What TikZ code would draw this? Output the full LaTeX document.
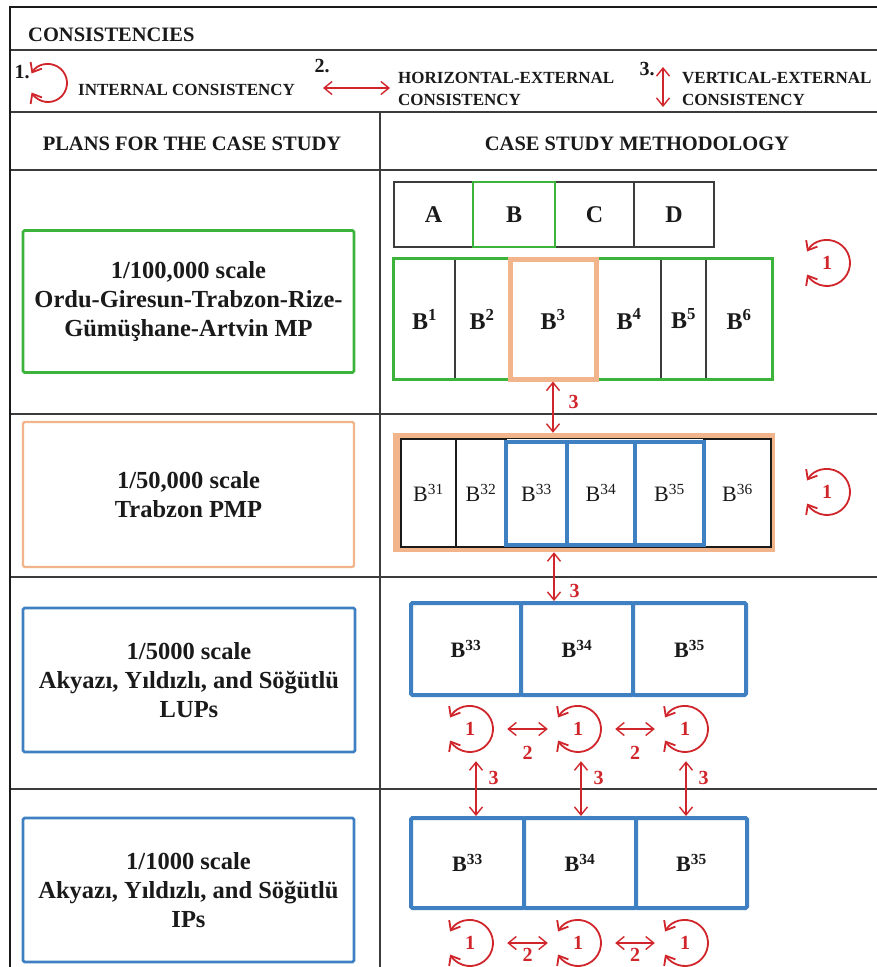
\documentclass[tikz,border=0pt]{standalone}
\usepackage{fontspec}
\setmainfont{Liberation Serif}
\usepackage{xcolor}
\usetikzlibrary{arrows.meta,positioning,calc}
\definecolor{ink}     {HTML}{1A1A1A}
\definecolor{rulegray}{HTML}{3C3C3C}
\definecolor{mpgreen} {HTML}{3CB43C}
\definecolor{peach}   {HTML}{F2B48A}
\definecolor{lupblue} {HTML}{3F80C2}
\definecolor{arrred}  {HTML}{D0262B}
% internal-consistency loop: name, centre, radius, label
\newcommand{\intloop}[4]{%
  \node[loopnode,minimum size=2*#3] (#1) at (#2) {#4};
  \draw[loopline] ([shift={(150:#3)}]#1.center) arc[start angle=150,end angle=-150,radius=#3];}
\tikzset{
  tip/.tip={Straight Barb[length=8pt,width=13pt]},
  rulel/.style={draw=rulegray,line width=1.6pt},
  frameline/.style={draw=ink,line width=2.2pt},
  conn/.style={draw=arrred,line width=1.4pt,tip-tip},
  loopline/.style={draw=arrred,line width=1.8pt,tip-tip},
  loopnode/.style={circle,inner sep=0pt,text=arrred,font=\fontsize{20}{20}\selectfont\bfseries},
  lab/.style={inner sep=0pt,text=arrred,font=\fontsize{20}{20}\selectfont\bfseries},
  headtxt/.style={inner sep=0pt,text=ink,font=\fontsize{20.5}{24}\selectfont\bfseries},
  legtxt/.style={inner sep=0pt,text=ink,align=left,font=\fontsize{17}{22}\selectfont\bfseries},
  legnum/.style={inner sep=0pt,text=ink,font=\fontsize{20}{20}\selectfont\bfseries},
  planbox/.style={draw,line width=2.6pt,rounded corners=1.5pt,fill=white,align=center,
    inner sep=0pt,text=ink,font=\fontsize{24.5}{29}\selectfont\bfseries},
  cell/.style={draw=rulegray,line width=1.2pt,fill=white,inner sep=0pt,text=ink,
    font=\fontsize{24}{28}\selectfont\bfseries},
  thincell/.style={cell,draw=ink,font=\fontsize{22}{26}\selectfont},
  bluecell/.style={cell,draw=lupblue,line width=4pt,rounded corners=1.5pt,
    font=\fontsize{22}{26}\selectfont\bfseries},
}
\begin{document}
\begin{tikzpicture}[x=1pt,y=-1pt]
\useasboundingbox[fill=white] (0,0) rectangle (877,967);

% table grid
\draw[rulel] (10,50) -- (877,50);
\draw[rulel] (10,112) -- (877,112);
\draw[rulel] (10,170) -- (877,170);
\draw[rulel] (10,414) -- (877,414);
\draw[rulel] (10,577) -- (877,577);
\draw[rulel] (10,789) -- (877,789);
\draw[rulel] (380,112) -- (380,967);
\draw[frameline] (10,967) -- (10,7) -- (877,7);

% legend
\node[headtxt,anchor=base west] (ttl) at (28,41) {CONSISTENCIES};
\node[legnum] (n1) at (22,72) {1.};
\intloop{kl}{48,83}{19pt}{}
\node[legtxt,anchor=base west] (t1) at (78,95) {INTERNAL CONSISTENCY};
\node[legnum] (n2) at (322,66) {2.};
\coordinate (h0) at (323,88);
\coordinate (h1) at (390,88);
\draw[conn] (h0) -- (h1);
\node[legtxt,anchor=west] (t2) at (398,88.5) {HORIZONTAL-EXTERNAL\\CONSISTENCY};
\node[legnum] (n3) at (647,69) {3.};
\coordinate (v0) at (663,67);
\coordinate (v1) at (663,107);
\draw[conn] (v0) -- (v1);
\node[legtxt,anchor=west] (t3) at (682,88.5) {VERTICAL-EXTERNAL\\CONSISTENCY};

% column heads
\node[headtxt,anchor=base] (hl) at (192,150) {PLANS FOR THE CASE STUDY};
\node[headtxt,anchor=base] (hr) at (637,150) {CASE STUDY METHODOLOGY};

% plans
\node[planbox,draw=mpgreen,minimum width=331pt,minimum height=142pt] (mp) at (188.5,301.5)
  {1/100,000 scale\\Ordu-Giresun-Trabzon-Rize-\\Gümüşhane-Artvin MP};
\node[planbox,draw=peach,line width=2.2pt,minimum width=331pt,minimum height=145pt] (pmp) at (188.5,494.5)
  {1/50,000 scale\\Trabzon PMP};
\node[planbox,draw=lupblue,minimum width=332pt,minimum height=144pt] (lup) at (189,680)
  {1/5000 scale\\Akyazı, Yıldızlı, and Söğütlü\\LUPs};
\node[planbox,draw=lupblue,minimum width=331pt,minimum height=144pt] (ip) at (188.5,890)
  {1/1000 scale\\Akyazı, Yıldızlı, and Söğütlü\\IPs};

% MP regions
\node[cell,minimum width=79pt,minimum height=65pt] (ca) at (433.5,214.5) {A};
\node[cell,minimum width=79pt,minimum height=65pt] (cc) at (594.5,214.5) {C};
\node[cell,minimum width=80pt,minimum height=65pt] (cd) at (674,214.5) {D};
\node[cell,draw=mpgreen,line width=2.8pt,minimum width=82pt,minimum height=65pt] (cb) at (514,214.5) {B};

\node[cell,minimum width=61pt,minimum height=120pt] (b1) at (424.5,319) {B\textsuperscript{1}};
\node[cell,minimum width=54pt,minimum height=120pt] (b2) at (482,319) {B\textsuperscript{2}};
\node[cell,minimum width=64pt,minimum height=120pt] (b4) at (629,319) {B\textsuperscript{4}};
\node[cell,minimum width=45pt,minimum height=120pt] (b5) at (683.5,319) {B\textsuperscript{5}};
\node[cell,minimum width=66pt,minimum height=120pt] (b6) at (739,319) {B\textsuperscript{6}};
\draw[draw=mpgreen,line width=2.8pt] (b1.north west) rectangle (b6.south east);
\node[cell,draw=peach,line width=5pt,minimum width=86pt,minimum height=120pt] (b3) at (553,319) {B\textsuperscript{3}};
\intloop{k1}{827,263}{23pt}{1}

% PMP regions
\node[fill=peach,inner sep=0pt,minimum width=382pt,minimum height=119pt] (fr) at (584,492.5) {};
\node[thincell,minimum width=55pt,minimum height=108pt] (b31) at (428.5,493) {B\textsuperscript{31}};
\node[thincell,minimum width=50pt,minimum height=108pt] (b32) at (481,493) {B\textsuperscript{32}};
\node[thincell,minimum width=67pt,minimum height=108pt] (b36) at (737.5,493) {B\textsuperscript{36}};
\draw[draw=ink,line width=1.2pt,fill=white] (b32.north east) rectangle (b36.south west);
\node[bluecell,rounded corners=0pt,font=\fontsize{22}{26}\selectfont,minimum width=61pt,minimum height=103pt] (b33) at (536.5,493) {B\textsuperscript{33}};
\node[bluecell,rounded corners=0pt,font=\fontsize{22}{26}\selectfont,minimum width=68pt,minimum height=103pt] (b34) at (601,493) {B\textsuperscript{34}};
\node[bluecell,rounded corners=0pt,font=\fontsize{22}{26}\selectfont,minimum width=69pt,minimum height=103pt] (b35) at (669.5,493) {B\textsuperscript{35}};
\intloop{k2}{827,492}{23pt}{1}

% LUP regions
\node[bluecell,minimum width=110pt,minimum height=92pt] (l33) at (466,649) {B\textsuperscript{33}};
\node[bluecell,minimum width=112pt,minimum height=92pt] (l34) at (577,649) {B\textsuperscript{34}};
\node[bluecell,minimum width=113pt,minimum height=92pt] (l35) at (689.5,649) {B\textsuperscript{35}};
\intloop{k33}{470,729}{23pt}{1}
\intloop{k34}{578,729}{23pt}{1}
\intloop{k35}{685,729}{23pt}{1}

% IP regions
\node[bluecell,minimum width=113pt,minimum height=90pt] (i33) at (467.5,863) {B\textsuperscript{33}};
\node[bluecell,minimum width=112pt,minimum height=90pt] (i34) at (580,863) {B\textsuperscript{34}};
\node[bluecell,minimum width=111pt,minimum height=90pt] (i35) at (691.5,863) {B\textsuperscript{35}};
\intloop{j33}{470,943}{23pt}{1}
\intloop{j34}{578,943}{23pt}{1}
\intloop{j35}{685,943}{23pt}{1}

% vertical-external
\draw[conn] (b3.south) -- (b3.south |- fr.north) node[lab,pos=.4,right=15pt] (e1) {3};
\draw[conn] ([xshift=-30pt]fr.south) -- ([xshift=-30pt]fr.south |- l34.north)
  node[lab,pos=.8,right=15pt] (e2) {3};
\draw[conn] ([xshift=6pt,yshift=-9pt]k33.south) -- ([xshift=6pt]k33.south |- i33.north)
  node[lab,pos=.3,right=12pt] (e3) {3};
\draw[conn] ([xshift=3pt,yshift=-9pt]k34.south) -- ([xshift=3pt]k34.south |- i34.north)
  node[lab,pos=.3,right=12pt] (e4) {3};
\draw[conn] ([xshift=1pt,yshift=-9pt]k35.south) -- ([xshift=1pt]k35.south |- i35.north)
  node[lab,pos=.3,right=12pt] (e5) {3};

% horizontal-external
\draw[conn] ([xshift=14pt]k33.east) -- ([xshift=-7pt]k34.west) node[lab,midway,below=17pt] (g1) {2};
\draw[conn] ([xshift=14pt]k34.east) -- ([xshift=-7pt]k35.west) node[lab,midway,below=17pt] (g2) {2};
\draw[conn] ([xshift=14pt]j33.east) -- ([xshift=-7pt]j34.west) node[lab,midway,below=5pt] (g3) {2};
\draw[conn] ([xshift=14pt]j34.east) -- ([xshift=-7pt]j35.west) node[lab,midway,below=5pt] (g4) {2};
\end{tikzpicture}
\end{document}
